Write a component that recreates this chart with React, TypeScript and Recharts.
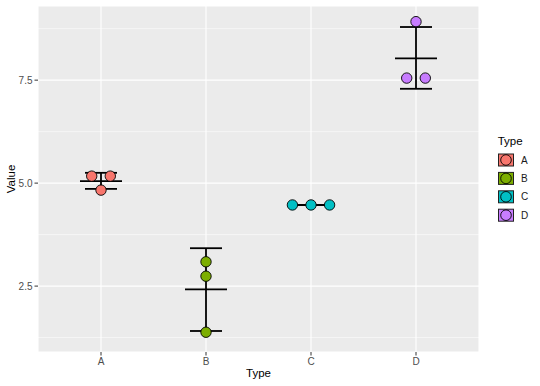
import {
  CartesianGrid,
  ErrorBar,
  Label,
  Legend,
  ReferenceLine,
  Scatter,
  ScatterChart,
  XAxis,
  YAxis,
} from "recharts";

// categories and their ggplot default hues
const CATEGORIES = ["A", "B", "C", "D"];
const COLORS = ["#F8766D", "#7CAE00", "#00BFC4", "#C77CFF"];

const VALUES_A = [5.17, 5.17, 4.83];
const VALUES_B = [3.09, 2.74, 1.38];
const VALUES_C = [4.47, 4.47, 4.47];
const VALUES_D = [8.92, 7.55, 7.55];
const GROUPS = [VALUES_A, VALUES_B, VALUES_C, VALUES_D];

// summary: centre line and error bar bounds
const MEANS = [5.05, 2.42, 4.47, 8.03];
const LOWER = [4.86, 1.41, 4.47, 7.29];
const UPPER = [5.25, 3.42, 4.47, 8.79];

const Y_TICKS = [2.5, 5, 7.5];
const Y_MINOR = [1.25, 3.75, 6.25, 8.75];

const FONT = "'Liberation Sans', Arial, Helvetica, sans-serif";
// horizontal spacing of dots that share a bin, in x-axis units
const STACK_STEP = 0.177;

// dotplot-style centred stacking: equal values sit side by side
function stackDots(values: number[], catIndex: number) {
  return values.map((v, i) => {
    const same = values.filter((w) => w === v).length;
    const k = values.slice(0, i).filter((w) => w === v).length;
    return { x: catIndex + 1 + (k - (same - 1) / 2) * STACK_STEP, y: v };
  });
}

const summary = CATEGORIES.map((_, i) => ({
  x: i + 1,
  y: MEANS[i],
  err: [MEANS[i] - LOWER[i], UPPER[i] - MEANS[i]],
}));

const MeanLine = (p: any) => (
  <line
    x1={p.cx - 21}
    x2={p.cx + 21}
    y1={p.cy}
    y2={p.cy}
    stroke="#000"
    strokeWidth={1.8}
  />
);

const Dot = (p: any) => (
  <circle cx={p.cx} cy={p.cy} r={5.2} fill={p.fill} stroke="#000" strokeWidth={0.9} />
);

const renderLegend = () => (
  <svg width={55} height={95} style={{ fontFamily: FONT, display: "block" }}>
    <text x={12.7} y={14.7} fontSize={11.5} fill="#000">
      Type
    </text>
    {CATEGORIES.map((c, i) => {
      const cy = 30 + i * 18.4;
      return (
        <g key={c}>
          <rect x={13.5} y={cy - 6} width={15} height={12} fill={COLORS[i]} stroke="#222" strokeWidth={1} />
          <circle cx={21} cy={cy} r={5.3} fill={COLORS[i]} stroke="#000" strokeWidth={0.9} />
          <text x={36} y={cy + 3.6} fontSize={10} fill="#1A1A1A">
            {c}
          </text>
        </g>
      );
    })}
  </svg>
);

export default function App() {
  return (
    <div style={{ position: "absolute", left: 0, top: 0, width: 540, height: 386, background: "#fff", fontFamily: FONT }}>
      <ScatterChart width={540} height={386} margin={{ top: 6, right: 61, bottom: 0, left: 0 }}>
        <CartesianGrid fill="#EBEBEB" fillOpacity={1} stroke="#FFFFFF" strokeWidth={1.1} />
        {Y_MINOR.map((v) => (
          <ReferenceLine key={v} y={v} stroke="#FFFFFF" strokeWidth={0.55} />
        ))}
        <XAxis
          type="number"
          dataKey="x"
          domain={[0.4, 4.6]}
          ticks={[1, 2, 3, 4]}
          interval={0}
          tickFormatter={(v) => CATEGORIES[v - 1]}
          axisLine={false}
          tickLine={{ stroke: "#333" }}
          tickSize={3.5}
          tickMargin={2.5}
          tick={{ fill: "#4D4D4D", fontSize: 10 }}
          height={34}
        >
          <Label value="Type" position="center" dy={4} fill="#000" fontSize={11.5} />
        </XAxis>
        <YAxis
          type="number"
          dataKey="y"
          domain={[0.9, 9.3]}
          ticks={Y_TICKS}
          interval={0}
          tickFormatter={(v) => v.toFixed(1)}
          axisLine={false}
          tickLine={{ stroke: "#333" }}
          tickSize={3.5}
          tickMargin={2}
          tick={{ fill: "#4D4D4D", fontSize: 10 }}
          width={38}
        >
          <Label value="Value" position="center" angle={-90} dx={-8.5} fill="#000" fontSize={11.5} />
        </YAxis>
        <Legend
          layout="vertical"
          align="center"
          verticalAlign="middle"
          wrapperStyle={{ left: 485, top: 130, width: 55, height: 95 }}
          content={renderLegend}
        />
        <Scatter data={summary} shape={MeanLine} legendType="none" isAnimationActive={false}>
          <ErrorBar dataKey="err" direction="y" width={16} stroke="#000" strokeWidth={1.8} isAnimationActive={false} />
        </Scatter>
        {GROUPS.map((vals, i) => (
          <Scatter
            key={CATEGORIES[i]}
            name={CATEGORIES[i]}
            data={stackDots(vals, i)}
            fill={COLORS[i]}
            shape={Dot}
            isAnimationActive={false}
          />
        ))}
      </ScatterChart>
    </div>
  );
}
